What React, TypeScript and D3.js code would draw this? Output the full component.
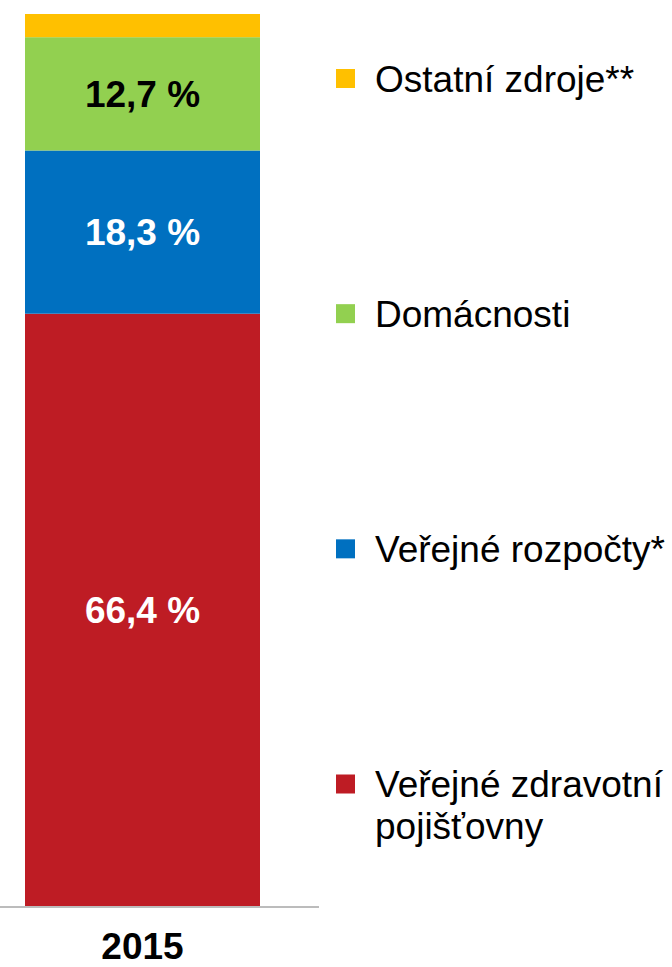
import React from "react";
import * as d3 from "d3";

const categories = ["2015"];
const seriesNames = [
  "Veřejné zdravotní pojišťovny",
  "Veřejné rozpočty*",
  "Domácnosti",
  "Ostatní zdroje**",
];
const seriesValues = [66.4, 18.3, 12.7, 2.6];
const seriesLabels = ["66,4 %", "18,3 %", "12,7 %", ""];
const labelColors = ["#ffffff", "#ffffff", "#000000", "#000000"];
const seriesColors = ["#BE1C24", "#0070C0", "#92D050", "#FFC000"];
const legendLines = [
  ["Veřejné zdravotní", "pojišťovny"],
  ["Veřejné rozpočty*"],
  ["Domácnosti"],
  ["Ostatní zdroje**"],
];

const W = 672;
const H = 967;
const FONT = "'Liberation Sans', Arial, Helvetica, sans-serif";

export default function App() {
  const y = d3.scaleLinear().domain([0, 100]).range([906, 14]);
  const x = d3.scaleBand().domain(categories).range([25, 260]).padding(0);

  const stackData = [
    Object.fromEntries(seriesNames.map((n, i) => [n, seriesValues[i]])),
  ];
  const stack = d3.stack<any>().keys(seriesNames)(stackData as any);

  const legendY = d3
    .scalePoint<number>()
    .domain([3, 2, 1, 0])
    .range([78.5, 784]);

  return (
    <svg
      width={W}
      height={H}
      style={{ position: "absolute", left: 0, top: 0, background: "#fff" }}
      fontFamily={FONT}
    >
      {stack.map((s, i) =>
        s.map((d, j) => (
          <rect
            key={`${i}-${j}`}
            x={x(categories[j])}
            width={x.bandwidth()}
            y={y(d[1])}
            height={y(d[0]) - y(d[1])}
            fill={seriesColors[i]}
          />
        ))
      )}
      {stack.map((s, i) =>
        s.map((d, j) =>
          seriesLabels[i] ? (
            <text
              key={`l${i}-${j}`}
              x={(x(categories[j]) as number) + x.bandwidth() / 2}
              y={(y(d[0]) + y(d[1])) / 2}
              dy="0.36em"
              textAnchor="middle"
              fontWeight="bold"
              fontSize={37}
              fill={labelColors[i]}
            >
              {seriesLabels[i]}
            </text>
          ) : null
        )
      )}
      <line x1={0} x2={319} y1={907} y2={907} stroke="#A6A6A6" strokeWidth={1.5} />
      {categories.map((c) => (
        <text
          key={c}
          x={(x(c) as number) + x.bandwidth() / 2}
          y={959}
          textAnchor="middle"
          fontWeight="bold"
          fontSize={37}
          fill="#000"
        >
          {c}
        </text>
      ))}
      {seriesNames.map((n, i) => {
        const cy = legendY(i) as number;
        return (
          <g key={n}>
            <rect x={336} y={cy - 9.5} width={19} height={19} fill={seriesColors[i]} />
            <text x={375} y={cy + 13} fontSize={37} fill="#000">
              {legendLines[i].map((t, k) => (
                <tspan key={k} x={375} dy={k === 0 ? 0 : 42}>
                  {t}
                </tspan>
              ))}
            </text>
          </g>
        );
      })}
    </svg>
  );
}
